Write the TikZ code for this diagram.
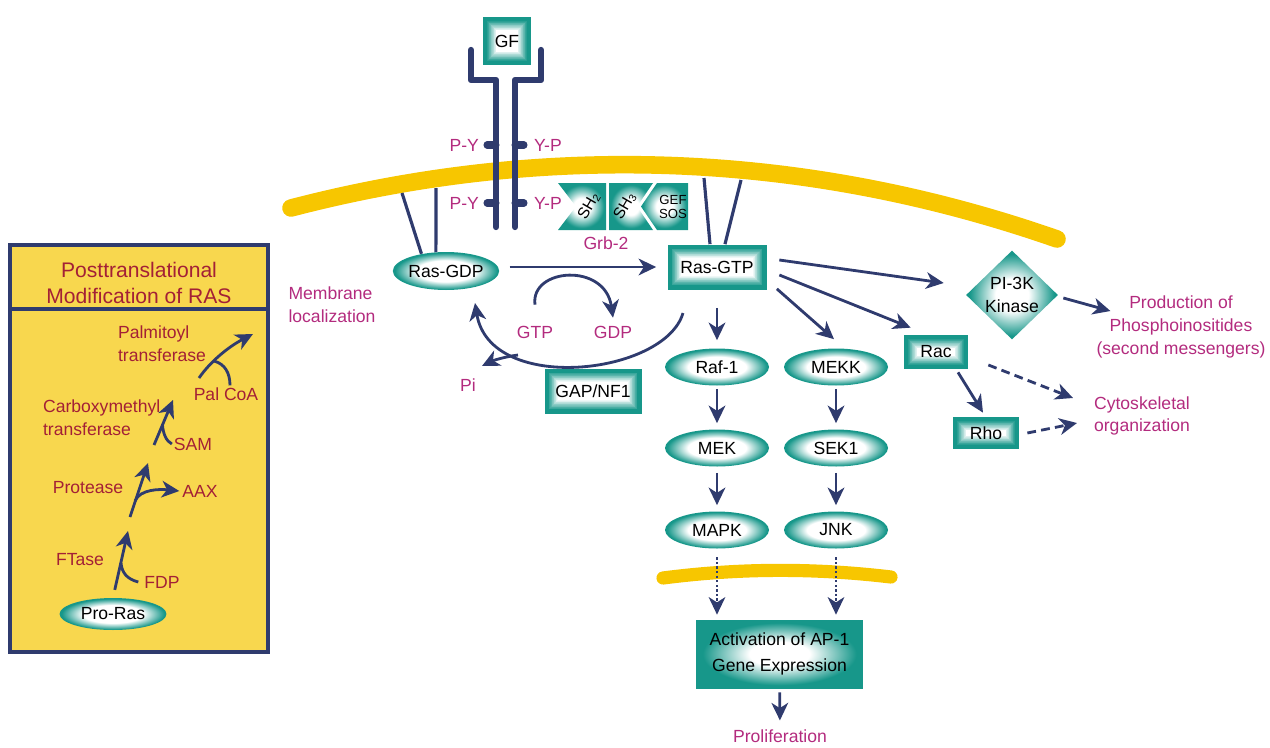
\documentclass[tikz,border=0pt]{standalone}
\usepackage{fontspec}
\setmainfont{Liberation Sans}
\usetikzlibrary{arrows.meta,shapes.geometric}

\definecolor{rasteal}{HTML}{17978A}
\definecolor{rasnavy}{HTML}{2F3B6E}
\definecolor{membyellow}{HTML}{F7C600}
\definecolor{boxyellow}{HTML}{F8D74E}
\definecolor{sigmagenta}{HTML}{B32B7E}
\definecolor{modred}{HTML}{A32036}

\pgfdeclareradialshading{tealglow}{\pgfpoint{0bp}{0bp}}{%
  color(0bp)=(white); color(9bp)=(white); color(23bp)=(rasteal);
  color(25bp)=(rasteal); color(50bp)=(rasteal)}
\pgfdeclareradialshading{ovalglow}{\pgfpoint{0bp}{0bp}}{%
  color(0bp)=(white); color(14bp)=(white); color(24bp)=(rasteal);
  color(25bp)=(rasteal); color(50bp)=(rasteal)}

\tikzset{
  sig/.style={draw=rasnavy, line width=1.6pt, -{Stealth[length=10pt, width=9.5pt, inset=3pt]}},
  sigdash/.style={sig, dash pattern=on 5pt off 3pt},
  sigdot/.style={sig, line width=1.2pt, dash pattern=on 1.3pt off 1.3pt},
  hook/.style={draw=rasnavy, line width=1.6pt},
  tether/.style={draw=rasnavy, line width=1.8pt},
  chain/.style={draw=rasnavy, line width=3.6pt, line cap=round, line join=round},
  lipid/.style={draw=membyellow, line cap=round},
  tealbox/.style={rectangle, fill=rasteal, inner sep=0pt,
    path picture={
      \foreach \k in {1,...,14}{
        \pgfmathtruncatemacro\glowpct{100-100*\k/14}
        \fill[rasteal!\glowpct!white]
          ([xshift=0.07cm+\k*0.014cm, yshift=0.07cm+\k*0.014cm]path picture bounding box.south west)
          rectangle
          ([xshift=-0.07cm-\k*0.014cm, yshift=-0.07cm-\k*0.014cm]path picture bounding box.north east);
      }}},
  tealglowbox/.style={shade, shading=tealglow, inner sep=0pt},
  tealoval/.style={ellipse, shade, shading=ovalglow, inner sep=0pt,
    minimum width=2.08cm, minimum height=0.74cm},
  maglabel/.style={text=sigmagenta, inner sep=1pt, align=center},
  modlabel/.style={text=modred, inner sep=1pt, align=left},
}

\begin{document}
\begin{tikzpicture}[x=0.02cm, y=-0.02cm, every node/.style={font=\fontsize{10}{13}\selectfont}]
  \useasboundingbox (0,0) rectangle (1270,747);

  % Membranes
  \draw[lipid, line width=10pt] (291,208) .. controls (548,141) and (808,152) .. (1057,239);
  \draw[lipid, line width=7.5pt] (663,578) .. controls (740,568) and (815,568) .. (891,577);

  % Box: posttranslational modification
  \draw[draw=rasnavy, line width=1.8pt, fill=boxyellow] (10,245) rectangle (268,652);
  \draw[draw=rasnavy, line width=2.2pt] (10,309) -- (268,309);
  \node[text=modred, align=center, font=\fontsize{12}{14.5}\selectfont] (ptmtitle) at (139,283)
    {Posttranslational\\Modification of RAS};

  \node[tealoval, minimum width=2.14cm, minimum height=0.64cm] (proras) at (113,614) {Pro-Ras};
  \node[modlabel] (ftase) at (80,560) {FTase};
  \node[modlabel] (fdp) at (162,582) {FDP};
  \node[modlabel] (protease) at (88,488) {Protease};
  \node[modlabel] (aax) at (200,491) {AAX};
  \node[modlabel, anchor=west] (cmt) at (41,418) {Carboxymethyl\\transferase};
  \node[modlabel] (sam) at (193,444) {SAM};
  \node[modlabel, anchor=west] (palt) at (116,344) {Palmitoyl\\transferase};
  \node[modlabel] (palcoa) at (226,394) {Pal CoA};

  \coordinate (ftasetip) at (128,531);
  \coordinate (fdpjoin) at (121,563);
  \coordinate (proteasebase) at (130,517);
  \coordinate (proteasetip) at (148,463);
  \coordinate (aaxfork) at (135,501);
  \coordinate (cmtbase) at (154,445);
  \coordinate (cmttip) at (173,400);
  \coordinate (samjoin) at (162.5,425);
  \coordinate (paltbase) at (199,378);
  \coordinate (palttip) at (253,334);
  \coordinate (palcoajoin) at (214,361);

  \draw[sig, shorten <=0.16cm] (proras.north) -- (ftasetip);
  \draw[hook] ([xshift=-0.08cm]fdp.west) .. controls (127,579) and (122,573) .. (fdpjoin);
  \draw[sig] (proteasebase) -- (proteasetip);
  \draw[sig] (aaxfork) .. controls (140,489) and (160,489) .. ([xshift=-0.02cm]aax.west);
  \draw[sig] (cmtbase) -- (cmttip);
  \draw[hook] (sam.west) .. controls (166,441) and (163,433) .. (samjoin);
  \draw[sig] (paltbase) .. controls (210,362) and (228,347) .. (palttip);
  \draw[hook] ([xshift=0.08cm]palcoa.north) .. controls (230,373) and (225,364) .. (palcoajoin);

  % Receptor with growth factor
  \node[tealbox, minimum width=0.96cm, minimum height=0.96cm] (gf) at (507,41) {GF};
  \draw[chain] (471,50) -- (471,80) -- (496,80) -- (496,227);
  \draw[chain] (541,50) -- (541,80) -- (515,80) -- (515,227);
  \foreach \y in {145,203}{
    \draw[chain, line width=4pt] (496,\y) -- (487,\y);
    \draw[chain, line width=4pt] (515,\y) -- (524,\y);
  }
  \node[maglabel, anchor=east] (py1) at (481,145) {P-Y};
  \node[maglabel, anchor=west] (yp1) at (532,145) {Y-P};
  \node[maglabel, anchor=east] (py2) at (481,203) {P-Y};
  \node[maglabel, anchor=west] (yp2) at (532,203) {Y-P};

  % Grb-2 / SOS
  \shade[shading=tealglow] (558,183) -- (606,183) -- (606,230) -- (558,230) -- (576,206.5) -- cycle;
  \shade[shading=tealglow] (609,183) -- (653,183) -- (637,206.5) -- (653,230) -- (609,230) -- cycle;
  \shade[shading=tealglow] (657,183) -- (688,183) -- (688,230) -- (657,230) -- (641,206.5) -- cycle;
  \node[rotate=60, inner sep=0pt, font=\fontsize{9}{10}\selectfont] (sh2) at (589,206) {SH\textsubscript{2}};
  \node[rotate=60, inner sep=0pt, font=\fontsize{9}{10}\selectfont] (sh3) at (625,206) {SH\textsubscript{3}};
  \node[inner sep=0pt, align=center, font=\fontsize{7.5}{7.5}\selectfont] (gefsos) at (673,207) {GEF\\SOS};
  \node[maglabel] (grb2) at (606,243) {Grb-2};

  % Ras cycle
  \node[tealoval, minimum width=2.1cm, minimum height=0.76cm] (rasgdp) at (446,271) {Ras-GDP};
  \node[tealbox, minimum width=1.98cm, minimum height=0.9cm] (rasgtp) at (717,267) {Ras-GTP};
  \node[maglabel, align=left] (memloc) at (332,305) {Membrane\\localization};
  \node[maglabel] (gtp) at (535,332) {GTP};
  \node[maglabel] (gdp) at (613,332) {GDP};
  \node[maglabel] (pi) at (468,385) {Pi};
  \node[tealbox, minimum width=1.94cm, minimum height=0.9cm] (gapnf) at (593,391) {GAP/NF1};

  \coordinate (gdptetherA) at (402,193);
  \coordinate (gdptetherB) at (436,188);
  \coordinate (gtptetherA) at (704,178);
  \coordinate (gtptetherB) at (741,180);
  \draw[tether] (gdptetherA) -- (rasgdp.145);
  \draw[tether] (gdptetherB) -- (rasgdp.118);
  \draw[tether] (gtptetherA) -- ([xshift=-0.14cm]rasgtp.north);
  \draw[tether] (gtptetherB) -- ([xshift=0.16cm]rasgtp.north);

  \draw[sig, shorten <=0.2cm, shorten >=0.22cm] (rasgtp.west -| rasgdp.east) -- (rasgtp.west);
  \draw[sig] ([yshift=0.38cm]gtp.north) .. controls (530,268) and (605,262) .. ([yshift=0.12cm]gdp.north);

  \coordinate (gapstart) at (683,313);
  \coordinate (gapend) at (475,303);
  \coordinate (pibranch) at (518,355);
  \coordinate (pitip) at (482,366);
  \draw[sig] (gapstart) .. controls (665,375) and (490,395) .. (gapend);
  \draw[sig] (pibranch) .. controls (503,357) and (492,361) .. (pitip);

  % MAPK and JNK cascades
  \node[tealoval] (raf1) at (717,367) {Raf-1};
  \node[tealoval] (mek) at (717,448) {MEK};
  \node[tealoval] (mapk) at (717,530) {MAPK};
  \node[tealoval] (mekk) at (836,367) {MEKK};
  \node[tealoval] (sek1) at (836,448) {SEK1};
  \node[tealoval] (jnk) at (836,530) {JNK};

  \draw[sig, shorten <=0.36cm, shorten >=0.16cm] (rasgtp) -- (raf1);
  \draw[sig, shorten <=0.06cm, shorten >=0.12cm] (raf1) -- (mek);
  \draw[sig, shorten <=0.12cm, shorten >=0.12cm] (mek) -- (mapk);
  \draw[sig, shorten <=0.06cm, shorten >=0.12cm] (mekk) -- (sek1);
  \draw[sig, shorten <=0.12cm, shorten >=0.12cm] (sek1) -- (jnk);
  \draw[sig] ([xshift=0.2cm,yshift=0.02cm]rasgtp.south east) -- ([xshift=-0.04cm,yshift=0.18cm]mekk.north);

  % Rac, Rho and PI-3K branches
  \node[diamond, tealglowbox, minimum width=1.84cm, minimum height=1.76cm, align=center] (pi3k) at (1012,295) {PI-3K\\Kinase};
  \node[maglabel] (prod) at (1181,327) {Production of\\Phosphoinositides\\(second messengers)};
  \node[tealbox, minimum width=1.28cm, minimum height=0.68cm] (rac) at (936,352) {Rac};
  \node[tealbox, minimum width=1.32cm, minimum height=0.64cm] (rho) at (986,433) {Rho};
  \node[maglabel, align=left, anchor=west] (cyto) at (1092,416) {Cytoskeletal\\organization};

  \draw[sig] ([xshift=0.25cm,yshift=0.14cm]rasgtp.east) -- ([xshift=-0.44cm,yshift=0.24cm]pi3k.west);
  \draw[sig] ([xshift=0.25cm,yshift=-0.16cm]rasgtp.east) -- ([xshift=0.14cm,yshift=0.14cm]rac.north west);
  \draw[sig] ([xshift=0.1cm,yshift=-0.06cm]pi3k.east) -- ([xshift=0.32cm,yshift=0.32cm]prod.west);
  \draw[sig] ([xshift=0.44cm,yshift=-0.06cm]rac.south) -- ([xshift=-0.06cm,yshift=0.08cm]rho.north);
  \draw[sigdash] ([xshift=0.4cm,yshift=-0.26cm]rac.east) -- ([xshift=-0.38cm,yshift=0.36cm]cyto.west);
  \draw[sigdash] ([xshift=0.16cm]rho.east) -- ([xshift=-0.3cm,yshift=-0.14cm]cyto.west);

  % Nucleus
  \node[tealglowbox, minimum width=3.34cm, minimum height=1.36cm, align=center,
    font=\fontsize{10}{14.5}\selectfont] (ap1) at (779.5,654) {Activation of AP-1\\Gene Expression};
  \node[maglabel] (prolif) at (780,736) {Proliferation};
  \draw[sigdot, shorten <=0.17cm, shorten >=0.1cm] (mapk.south) -- (mapk.south |- ap1.north);
  \draw[sigdot, shorten <=0.17cm, shorten >=0.1cm] (jnk.south) -- (jnk.south |- ap1.north);
  \draw[sig, shorten <=0.08cm, shorten >=0.14cm] (ap1) -- (prolif);

\end{tikzpicture}
\end{document}
